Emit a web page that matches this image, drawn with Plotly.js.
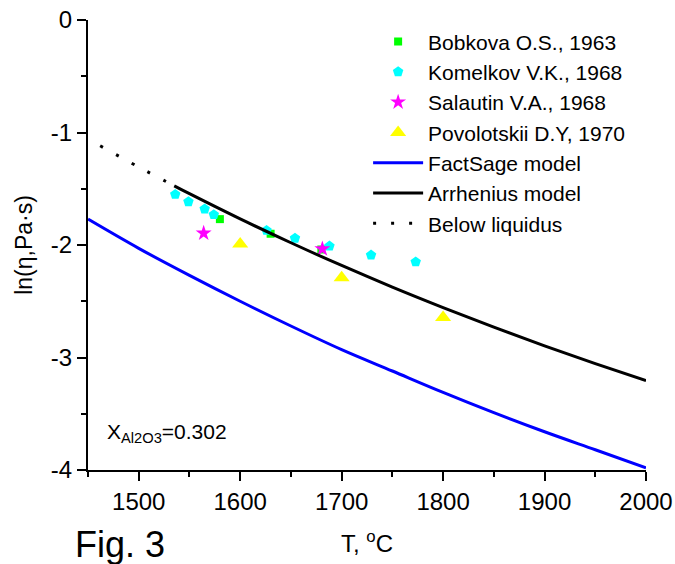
<!DOCTYPE html>
<html>
<head>
<meta charset="utf-8">
<script src="https://cdn.plot.ly/plotly-3.0.1.min.js"></script>
<style>html,body{margin:0;padding:0;background:#fff;}#chart{width:675px;height:564px;}</style>
</head>
<body>
<div id="chart"></div>
<script>
// Experimental data (T in °C, ln viscosity)
const bobkovaT = [1580, 1630, 1680];
const bobkovaLn = [-1.77, -1.90, -2.04];

const komelkovT = [1536, 1549, 1565, 1574, 1626, 1654, 1688, 1729, 1773];
const komelkovLn = [-1.55, -1.615, -1.68, -1.73, -1.87, -1.94, -2.01, -2.09, -2.15];

const salautinT = [1564, 1681];
const salautinLn = [-1.895, -2.035];

const povolotskiiT = [1600, 1700, 1800];
const povolotskiiLn = [-1.99, -2.29, -2.645];

// Model curves
const factsageT = [1450, 1500, 1550, 1600, 1650, 1700, 1750, 1800, 1850, 1900, 1950, 2000];
const factsageLn = [-1.77, -2.03, -2.27, -2.50, -2.72, -2.93, -3.12, -3.31, -3.49, -3.66, -3.82, -3.98];

const arrheniusT = [1535, 1550, 1600, 1650, 1700, 1750, 1800, 1850, 1900, 1950, 2000];
const arrheniusLn = [-1.474, -1.544, -1.768, -1.980, -2.182, -2.374, -2.556, -2.730, -2.896, -3.054, -3.206];

const belowT = [1462, 1500, 1535];
const belowLn = [-1.118, -1.307, -1.474];

// Tick labels
const xTickVals = [1500, 1600, 1700, 1800, 1900, 2000];
const xTickText = ["1500", "1600", "1700", "1800", "1900", "2000"];
const yTickVals = [-4, -3, -2, -1, 0];
const yTickText = ["-4", "-3", "-2", "-1", "0"];

const seriesNames = ["Bobkova O.S., 1963", "Komelkov V.K., 1968", "Salautin V.A., 1968",
  "Povolotskii D.Y, 1970", "FactSage model", "Arrhenius model", "Below liquidus"];

const sans = "Liberation Sans, Arial, sans-serif";

const traces = [
  {x: bobkovaT, y: bobkovaLn, name: seriesNames[0], mode: "markers", type: "scatter",
   marker: {symbol: "square", size: 8, color: "#00ff00"}},
  {x: komelkovT, y: komelkovLn, name: seriesNames[1], mode: "markers", type: "scatter",
   marker: {symbol: "pentagon", size: 11, color: "#00ffff"}},
  {x: salautinT, y: salautinLn, name: seriesNames[2], mode: "markers", type: "scatter",
   marker: {symbol: "star", size: 12, color: "#ff00ff"}},
  {x: povolotskiiT, y: povolotskiiLn, name: seriesNames[3], mode: "markers", type: "scatter",
   marker: {symbol: "triangle-up", size: 14, color: "#ffff00"}},
  {x: factsageT, y: factsageLn, name: seriesNames[4], mode: "lines", type: "scatter",
   line: {color: "#0000ff", width: 3, shape: "spline"}},
  {x: arrheniusT, y: arrheniusLn, name: seriesNames[5], mode: "lines", type: "scatter",
   line: {color: "#000000", width: 3, shape: "spline"}},
  {x: belowT, y: belowLn, name: seriesNames[6], mode: "lines", type: "scatter",
   line: {color: "#000000", width: 3, dash: "3px,15px", shape: "spline"}}
];

const layout = {
  width: 675, height: 564,
  margin: {l: 88, r: 29, t: 20, b: 94, pad: 0},
  paper_bgcolor: "#ffffff", plot_bgcolor: "#ffffff",
  showlegend: true,
  legend: {x: 0.502, y: 0.997, xanchor: "left", yanchor: "top", bgcolor: "rgba(0,0,0,0)",
    font: {family: sans, size: 21, color: "#000"}, tracegroupgap: 0, itemwidth: 50},
  xaxis: {range: [1450, 2000], tickvals: xTickVals, ticktext: xTickText, ticks: "outside", ticklen: 9, tickwidth: 2,
    tickcolor: "#000", showline: true, linewidth: 2, linecolor: "#000", showgrid: false, zeroline: false,
    minor: {dtick: 50, tick0: 1450, ticks: "outside", ticklen: 5, tickwidth: 2, tickcolor: "#000", showgrid: false},
    tickfont: {family: sans, size: 24, color: "#000"},
    title: {text: "T, <sup>o</sup>C", font: {family: sans, size: 24, color: "#000"}, standoff: 21}},
  yaxis: {range: [-4, 0], tickvals: yTickVals, ticktext: yTickText, ticks: "outside", ticklen: 9, tickwidth: 2,
    tickcolor: "#000", showline: true, linewidth: 2, linecolor: "#000", showgrid: false, zeroline: false,
    minor: {dtick: 0.5, tick0: 0, ticks: "outside", ticklen: 5, tickwidth: 2, tickcolor: "#000", showgrid: false},
    tickfont: {family: sans, size: 24, color: "#000"},
    title: {text: "ln(η,Pa·s)", font: {family: sans, size: 23, color: "#000"}, standoff: 12}},
  xaxis2: {overlaying: "x", anchor: "y", side: "top", range: [1450, 2000], tick0: 1450, dtick: 55,
    ticks: "outside", ticklen: 3, tickwidth: 1, tickcolor: "#000", showticklabels: false,
    showline: true, linewidth: 2, linecolor: "#000", showgrid: false, zeroline: false},
  yaxis2: {overlaying: "y", anchor: "x", side: "right", range: [-4, 0], tick0: 0, dtick: 0.4,
    ticks: "outside", ticklen: 3, tickwidth: 1, tickcolor: "#000", showticklabels: false,
    showline: true, linewidth: 2, linecolor: "#000", showgrid: false, zeroline: false},
  annotations: [
    {xref: "paper", yref: "paper", x: 0.03, y: 0.05, xanchor: "left", yanchor: "bottom", showarrow: false,
     text: "X<sub>Al2O3</sub>=0.302", font: {family: sans, size: 21, color: "#000"}},
    {xref: "paper", yref: "paper", x: 0.057, y: -0.165, xanchor: "center", yanchor: "middle", showarrow: false,
     text: "Fig. 3", font: {family: sans, size: 36, color: "#000"}}
  ]
};

Plotly.newPlot("chart", traces, layout, {staticPlot: true, displayModeBar: false});
</script>
</body>
</html>
